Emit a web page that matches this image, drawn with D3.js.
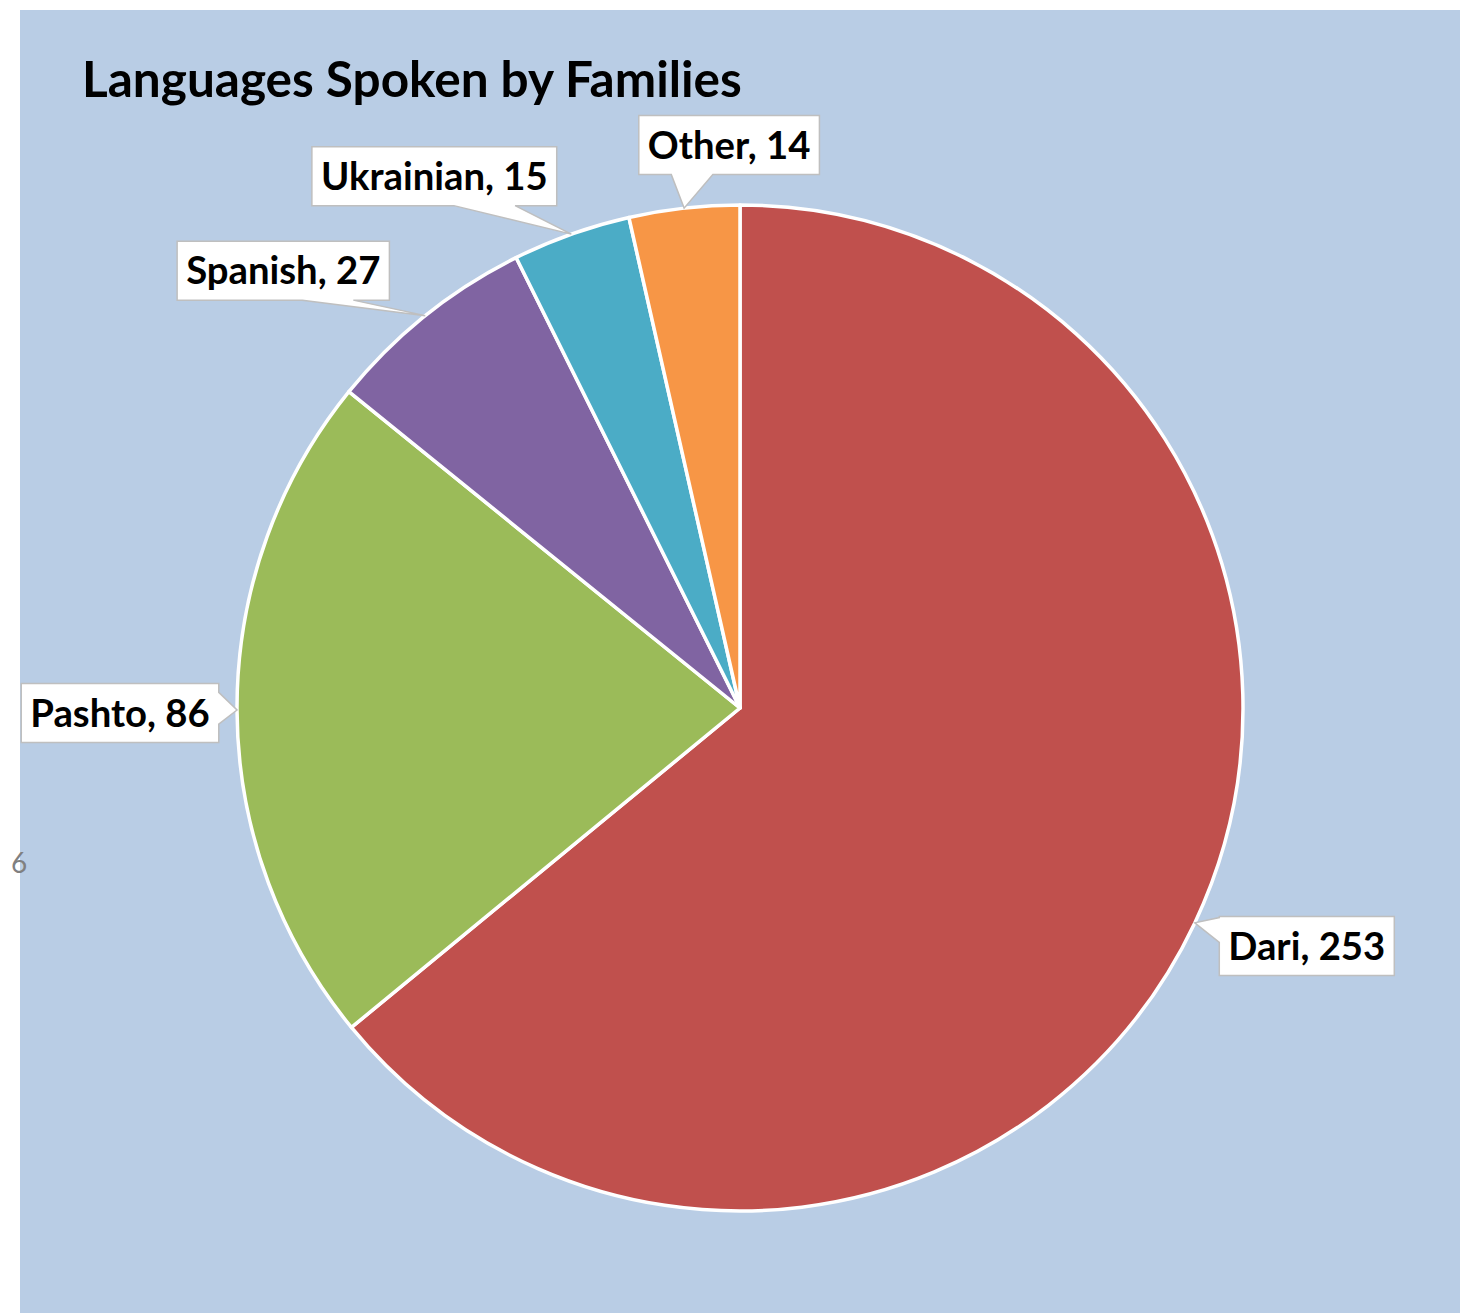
<!DOCTYPE html>
<html>
<head>
<meta charset="utf-8">
<script src="https://cdn.jsdelivr.net/npm/d3@7"></script>
<style>
  html, body { margin: 0; padding: 0; background: #ffffff; }
  svg { display: block; }
</style>
</head>
<body>
<svg id="chart" width="1470" height="1313"></svg>
<script>
// ---- data ----
const categories = ["Dari", "Pashto", "Spanish", "Ukrainian", "Other"];
const values = [253, 86, 27, 15, 14];
const sliceColors = ["#C0504D", "#9BBB59", "#8064A2", "#4BACC6", "#F79646"];
const chartTitle = "Languages Spoken by Families";
const pageNumber = "6";

// ---- layout (callout placement relative to the slice's edge point) ----
const calloutLayout = [
  { dx: 112, dy: 23,  side: "left",   f0: 0.02, f1: 0.44 },
  { dx: -117, dy: 3,  side: "right",  f0: 0.15, f1: 0.69 },
  { dx: -142, dy: -45, side: "bottom", f0: 0.59, f1: 0.83 },
  { dx: -137, dy: -58, side: "bottom", f0: 0.58, f1: 0.83 },
  { dx: 45,  dy: -63, side: "bottom", f0: 0.18, f1: 0.41 }
];

const svg = d3.select("#chart");
const W = 1470, H = 1313;
const FONT = "Lato, 'Open Sans', 'DejaVu Sans', sans-serif";

// chart area background
svg.append("rect").attr("x", 20).attr("y", 10).attr("width", 1440).attr("height", H - 10)
  .attr("fill", "#B9CDE5");

// page number
svg.append("text").attr("x", 11).attr("y", 873).text(pageNumber)
  .attr("font-family", FONT).attr("font-size", 28).attr("fill", "#808080");

// helper: measure text width at 100px
function measure(str, weight) {
  const t = svg.append("text").attr("font-family", FONT).attr("font-weight", weight)
    .attr("font-size", 100).text(str);
  const w = t.node().getComputedTextLength();
  t.remove();
  return w;
}

// title
const titleSize = 100 * 660 / measure(chartTitle, "bold");
svg.append("text").attr("x", 82).attr("y", 97).text(chartTitle)
  .attr("font-family", FONT).attr("font-weight", "bold").attr("font-size", titleSize)
  .attr("fill", "#000");

// pie
const cx = 740, cy = 708, R = 503;
const pie = d3.pie().sort(null).value(d => d.v).startAngle(0).endAngle(2 * Math.PI);
const data = categories.map((c, i) => ({ c, v: values[i], col: sliceColors[i], lay: calloutLayout[i] }));
const arcs = pie(data);
const arc = d3.arc().innerRadius(0).outerRadius(R);

const g = svg.append("g").attr("transform", `translate(${cx},${cy})`);
g.selectAll("path").data(arcs).join("path")
  .attr("d", arc)
  .attr("fill", d => d.data.col)
  .attr("stroke", "#ffffff")
  .attr("stroke-width", 3.5)
  .attr("stroke-linejoin", "round");

// callouts
const labelSize = 100 * 157 / measure("Dari, 253", "bold");
const boxH = 59, pad = 9;

function calloutPath(x0, y0, x1, y1, side, f0, f1, tx, ty) {
  const w = x1 - x0, h = y1 - y0;
  const p = [[x0, y0]];
  if (side === "top") p.push([x0 + w * f0, y0], [tx, ty], [x0 + w * f1, y0]);
  p.push([x1, y0]);
  if (side === "right") p.push([x1, y0 + h * f0], [tx, ty], [x1, y0 + h * f1]);
  p.push([x1, y1]);
  if (side === "bottom") p.push([x0 + w * f1, y1], [tx, ty], [x0 + w * f0, y1]);
  p.push([x0, y1]);
  if (side === "left") p.push([x0, y0 + h * f1], [tx, ty], [x0, y0 + h * f0]);
  return d3.line()(p) + "Z";
}

const lg = svg.append("g");
arcs.forEach(a => {
  const mid = (a.startAngle + a.endAngle) / 2;
  const tx = cx + R * Math.sin(mid), ty = cy - R * Math.cos(mid);
  const label = `${a.data.c}, ${a.data.v}`;
  const tw = measure(label, "bold") * labelSize / 100;
  const bw = tw + 2 * pad;
  const bcx = tx + a.data.lay.dx, bcy = ty + a.data.lay.dy;
  const x0 = bcx - bw / 2, x1 = bcx + bw / 2, y0 = bcy - boxH / 2, y1 = bcy + boxH / 2;
  lg.append("path")
    .attr("d", calloutPath(x0, y0, x1, y1, a.data.lay.side, a.data.lay.f0, a.data.lay.f1, tx, ty))
    .attr("fill", "#ffffff").attr("stroke", "#BFBFBF").attr("stroke-width", 1.5);
  lg.append("text").attr("x", bcx).attr("y", bcy).attr("dy", "0.36em")
    .attr("text-anchor", "middle")
    .attr("font-family", FONT).attr("font-weight", "bold").attr("font-size", labelSize)
    .attr("fill", "#000").text(label);
});
</script>
</body>
</html>
